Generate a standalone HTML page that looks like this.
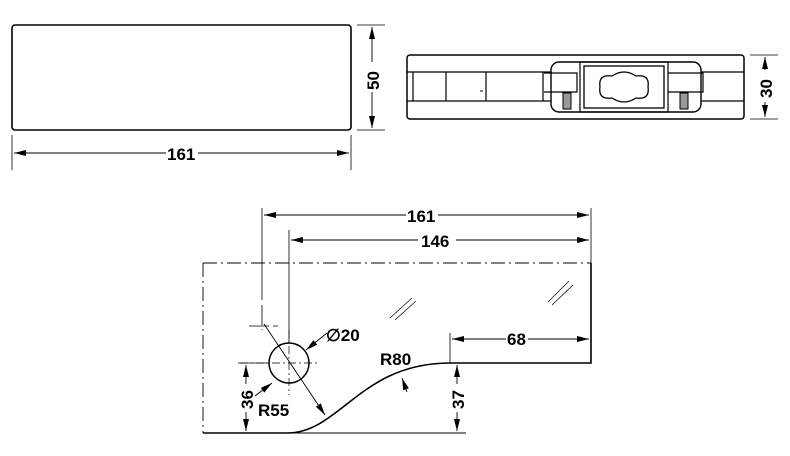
<!DOCTYPE html><html><head><style>body{margin:0;background:#fff}svg{display:block}text{font-family:"Liberation Sans",sans-serif;font-weight:bold;font-size:17px;fill:#000;stroke:none}</style></head><body>
<svg width="790" height="456" viewBox="0 0 790 456" fill="none" stroke="#000" stroke-width="1.3">
<defs><marker id="a" markerWidth="12" markerHeight="6" refX="12" refY="3" orient="auto-start-reverse" markerUnits="userSpaceOnUse"><path d="M0,0L12,3L0,6z" fill="#000" stroke="none"/></marker></defs>
<!-- top left -->
<rect x="12" y="25" width="339" height="105" rx="3" stroke-width="1.6"/>
<path d="M12 135V170M351 135V170M357 25H385M357 130H385" stroke-width="0.8"/>
<path d="M14 153H349" marker-start="url(#a)" marker-end="url(#a)" stroke-width="0.9"/>
<path d="M372 27V128" marker-start="url(#a)" marker-end="url(#a)" stroke-width="0.9"/>
<rect x="166" y="145" width="32" height="16" fill="#fff" stroke="none"/><text x="167" y="160">161</text>
<rect x="364" y="62" width="16" height="30" fill="#fff" stroke="none"/><text transform="translate(379,90) rotate(-90)">50</text>
<!-- top right -->
<rect x="407" y="55" width="337" height="64" rx="3" stroke-width="1.5"/>
<path d="M407 72H744M407 101H744M413 72V101M446 72V101M486 72V101M543 72V101" stroke-width="1.2"/>
<path d="M480 91H483" stroke-width="1"/>
<rect x="551" y="62" width="150" height="50" rx="8" fill="#fff" stroke-width="1.4"/>
<rect x="584" y="66" width="80" height="42" stroke-width="1.3"/>
<rect x="580" y="62" width="88" height="50" stroke-width="1.2"/>
<path d="M612 76Q624 68 636 76Q650 74 648 87Q650 100 636 98Q624 106 612 98Q598 100 600 87Q598 74 612 76z" stroke-width="1.3"/>
<path d="M544 73H577V92H544M668 73H703V92H668" stroke-width="1.2"/>
<rect x="563" y="93" width="8" height="16" fill="#999" stroke-width="1"/>
<rect x="680" y="93" width="8" height="16" fill="#999" stroke-width="1"/>
<path d="M750 55H778M750 119H778" stroke-width="0.8"/>
<path d="M765 57V117" marker-start="url(#a)" marker-end="url(#a)" stroke-width="0.9"/>
<rect x="757" y="70" width="16" height="32" fill="#fff" stroke="none"/><text transform="translate(772,98) rotate(-90)">30</text>
<!-- bottom -->
<path d="M203 263H591M203 263V433" stroke-dasharray="14,4,2,4" stroke-width="0.9"/>
<path d="M591 263V363H450M203 433H287C340 433 360 363 450 363" stroke-width="1.6"/>
<path d="M285 433H466" stroke-width="1"/>
<path d="M262 305V330M249 326H278" stroke-width="0.8" stroke-dasharray="20,4"/>
<path d="M262 208V300M289 230V343" stroke-width="0.8"/>
<path d="M591 208V263" stroke-width="0.8"/>
<path d="M264 215H589" marker-start="url(#a)" marker-end="url(#a)" stroke-width="0.9"/>
<path d="M291 240H589" marker-start="url(#a)" marker-end="url(#a)" stroke-width="0.9"/>
<rect x="406" y="207" width="32" height="16" fill="#fff" stroke="none"/><text x="407" y="222">161</text>
<rect x="418" y="232" width="38" height="16" fill="#fff" stroke="none"/><text x="421" y="247">146</text>
<circle cx="289" cy="363" r="20" stroke-width="1.5"/>
<path d="M240 363H318M289 330V395" stroke-width="0.7" stroke-dasharray="8,3,2,3"/>
<path d="M264 324L325 415" marker-end="url(#a)" stroke-width="0.9"/>
<path d="M327 333L306 350" marker-end="url(#a)" stroke-width="0.9"/>
<path d="M255 396L272 383" marker-end="url(#a)" stroke-width="0.9"/>
<text x="326" y="341">∅20</text>
<text x="258" y="416">R55</text>
<text x="380" y="365">R80</text>
<path d="M407 392L402 378" marker-end="url(#a)" stroke-width="0.9"/>
<path d="M450 333V363" stroke-width="0.8"/>
<path d="M452 339H589" marker-start="url(#a)" marker-end="url(#a)" stroke-width="0.9"/>
<rect x="506" y="331" width="22" height="16" fill="#fff" stroke="none"/><text x="507" y="345">68</text>
<path d="M238 363H268" stroke-width="0.8"/>
<path d="M246 365V431" marker-start="url(#a)" marker-end="url(#a)" stroke-width="0.9"/>
<rect x="238" y="384" width="16" height="28" fill="#fff" stroke="none"/><text transform="translate(253,409) rotate(-90)">36</text>
<path d="M457 365V431" marker-start="url(#a)" marker-end="url(#a)" stroke-width="0.9"/>
<rect x="449" y="384" width="16" height="28" fill="#fff" stroke="none"/><text transform="translate(464,409) rotate(-90)">37</text>
<path d="M390 318L412 298M395 320L416 301M548 302L569 281M552 305L573 285" stroke-width="0.7"/>
</svg></body></html>
